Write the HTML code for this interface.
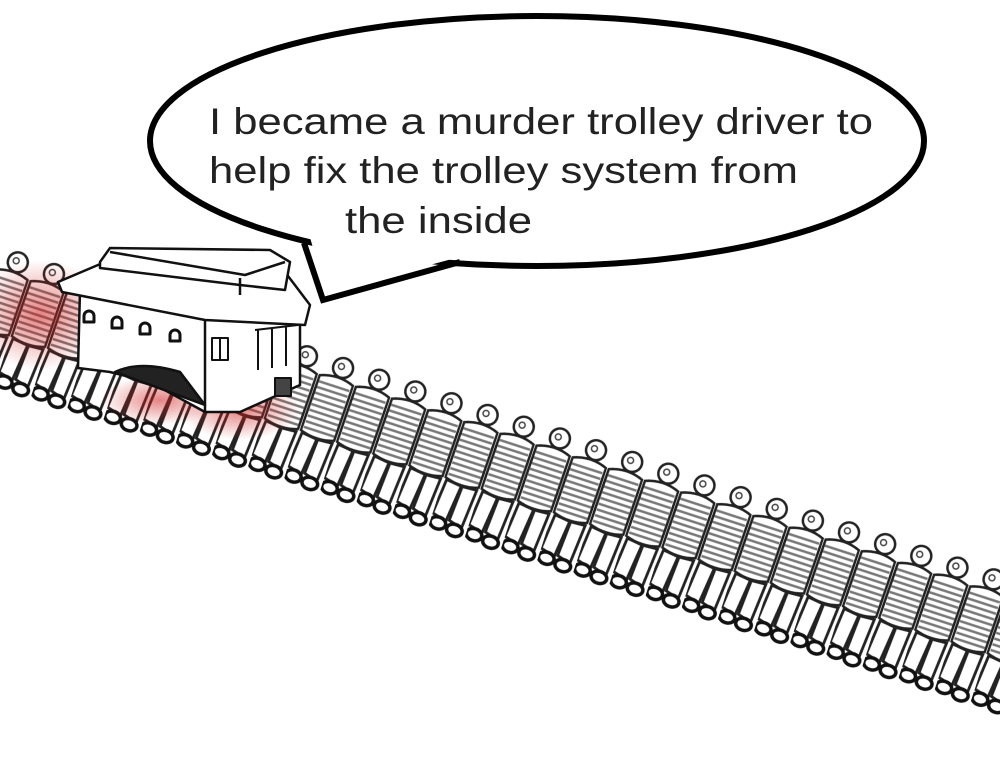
<!DOCTYPE html>
<html><head><meta charset="utf-8"><style>
html,body{margin:0;padding:0;background:#fff;}
svg{display:block;}
</style></head><body>
<svg width="1000" height="764" viewBox="0 0 1000 764" xmlns="http://www.w3.org/2000/svg">
<defs>
<pattern id="ppl" patternUnits="userSpaceOnUse" x="0" y="232" width="38" height="140">
  <rect width="38" height="140" fill="#fff"/>
  <circle cx="22" cy="12" r="10" fill="#fff" stroke="#222" stroke-width="2.5"/>
  <circle cx="20" cy="11" r="3" fill="none" stroke="#444" stroke-width="1.5"/>
  <path d="M2 26 Q20 19 37 26 L36 84 Q19 90 1 84 Z" fill="#fff" stroke="#222" stroke-width="2.5"/>
  <g stroke="#777" stroke-width="2.4">
    <line x1="3" y1="32" x2="35" y2="32"/><line x1="3" y1="38" x2="35" y2="38"/>
    <line x1="3" y1="44" x2="35" y2="44"/><line x1="3" y1="50" x2="35" y2="50"/>
    <line x1="3" y1="56" x2="35" y2="56"/><line x1="3" y1="62" x2="35" y2="62"/>
    <line x1="3" y1="68" x2="35" y2="68"/><line x1="3" y1="74" x2="35" y2="74"/>
    <line x1="3" y1="80" x2="35" y2="80"/>
  </g>
  <path d="M3 86 L0 122 L15 126 L19 88 Z" fill="#fff" stroke="#222" stroke-width="2.8"/>
  <path d="M20 88 L18 124 L32 128 L35 87 Z" fill="#fff" stroke="#222" stroke-width="2.8"/>
  <ellipse cx="8" cy="130" rx="8" ry="6" fill="#fff" stroke="#111" stroke-width="3.5"/>
  <ellipse cx="26" cy="132" rx="8" ry="6" fill="#fff" stroke="#111" stroke-width="3.5"/>
</pattern>
<radialGradient id="blood1" cx="0.5" cy="0.5" r="0.5">
  <stop offset="0" stop-color="#d02020" stop-opacity="0.55"/>
  <stop offset="1" stop-color="#d02020" stop-opacity="0"/>
</radialGradient>
</defs>
<rect width="1000" height="764" fill="#fff"/>

<g transform="rotate(18)">
  <rect x="-100" y="232" width="1400" height="140" fill="url(#ppl)"/>
</g>

<ellipse cx="40" cy="315" rx="70" ry="55" fill="url(#blood1)"/>
<ellipse cx="240" cy="410" rx="60" ry="30" fill="url(#blood1)"/>
<ellipse cx="160" cy="400" rx="60" ry="25" fill="url(#blood1)"/>

<g stroke="#111" stroke-width="2.5" stroke-linejoin="round" fill="#fff">
  <path d="M80 290 L205 318 L300 318 L300 385 L240 412 L205 412 L150 382 L110 372 L78 368 Z"/>
  <path d="M205 318 L205 412" fill="none"/>
  <path d="M115 372 Q140 360 180 372 L205 405 Z" fill="#222"/>
  <path d="M58 282 L105 262 L285 272 L310 305 L305 325 L205 320 L62 292 Z"/>
  <path d="M100 262 L110 248 L270 250 L290 262 L285 290 L240 285 L100 268 Z"/>
  <path d="M110 252 L245 275 L285 262" fill="none"/>
  <path d="M240 278 L240 295" fill="none"/>
  <g stroke-width="3">
    <path d="M84 322 v-6 a5 5 0 0 1 10 0 v6 z"/>
    <path d="M112 328 v-6 a5 5 0 0 1 10 0 v6 z"/>
    <path d="M140 334 v-6 a5 5 0 0 1 10 0 v6 z"/>
    <path d="M170 341 v-6 a5 5 0 0 1 10 0 v6 z"/>
  </g>
  <path d="M212 338 h16 v22 h-16 z" stroke-width="2"/>
  <path d="M220 338 v22" fill="none" stroke-width="2"/>
  <path d="M255 330 L298 325 M258 330 v40 M272 328 v40 M286 326 v40" fill="none" stroke-width="2"/>
  <path d="M275 378 h16 v18 h-16 z" fill="#444" stroke-width="2"/>
</g>

<ellipse cx="537" cy="141" rx="387" ry="125" fill="#fff" stroke="#000" stroke-width="6"/>
<path d="M304 243 L323 300 L460 262" fill="none" stroke="#000" stroke-width="6" stroke-linejoin="miter"/>
<path d="M309 234 L326 293 L452 259 L452 245 L330 228 Z" fill="#fff"/>
<g font-family="'Liberation Sans', sans-serif" font-size="37" fill="#222">
  <text x="209" y="134" textLength="664" lengthAdjust="spacingAndGlyphs">I became a murder trolley driver to</text>
  <text x="209" y="183" textLength="589" lengthAdjust="spacingAndGlyphs">help fix the trolley system from</text>
  <text x="345" y="233" textLength="187" lengthAdjust="spacingAndGlyphs">the inside</text>
</g>
</svg>
</body></html>
